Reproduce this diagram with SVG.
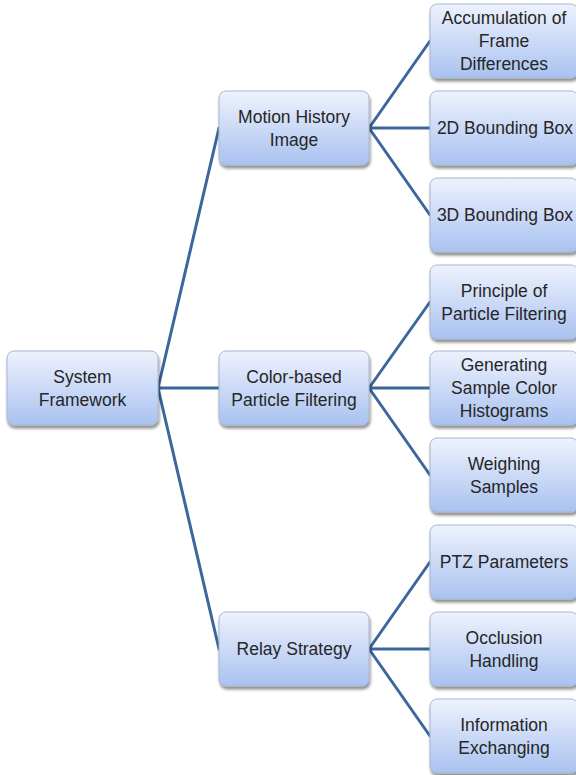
<svg xmlns="http://www.w3.org/2000/svg" width="576" height="775" viewBox="0 0 576 775">
  <defs>
    <linearGradient id="boxFill" x1="0" y1="0" x2="0" y2="1">
      <stop offset="0" stop-color="#eef2fd"/>
      <stop offset="1" stop-color="#a9c2f0"/>
    </linearGradient>
    <filter id="shadow" x="-10%" y="-10%" width="125%" height="135%">
      <feGaussianBlur in="SourceAlpha" stdDeviation="1.6"/>
      <feOffset dx="1" dy="2.5" result="b"/>
      <feComponentTransfer><feFuncA type="linear" slope="0.45"/></feComponentTransfer>
      <feMerge><feMergeNode/><feMergeNode in="SourceGraphic"/></feMerge>
    </filter>
  </defs>
  <style>
    .box { fill: url(#boxFill); stroke: #a7b6d2; stroke-width: 1; filter: url(#shadow); }
    .lbl { font-family: "Liberation Sans", Arial, sans-serif; font-size: 17.5px; fill: #262626; text-anchor: middle; }
    .edge { stroke: #3c679c; stroke-width: 3; fill: none; stroke-linecap: round; }
  </style>
  <rect width="576" height="775" fill="#ffffff"/>

  <g id="connectors">
    <path class="edge" d="M158 388 L219 128 M158 388 L219 388 M158 388 L219 649"/>
    <path class="edge" d="M369 128 L430 41 M369 128 L430 128 M369 128 L430 215"/>
    <path class="edge" d="M369 388 L430 302 M369 388 L430 388 M369 388 L430 475"/>
    <path class="edge" d="M369 649 L430 562 M369 649 L430 649 M369 649 L430 736"/>
  </g>

  <g id="system-framework">
    <rect class="box" x="7" y="351" width="151" height="74" rx="7"/>
    <text class="lbl" x="82.5" y="383">System</text>
    <text class="lbl" x="82.5" y="406">Framework</text>
  </g>

  <g id="motion-history-image">
    <rect class="box" x="219" y="91" width="150" height="74" rx="7"/>
    <text class="lbl" x="294" y="123">Motion History</text>
    <text class="lbl" x="294" y="146">Image</text>
  </g>
  <g id="color-particle-filtering">
    <rect class="box" x="219" y="351" width="150" height="74" rx="7"/>
    <text class="lbl" x="294" y="383">Color-based</text>
    <text class="lbl" x="294" y="406">Particle Filtering</text>
  </g>
  <g id="relay-strategy">
    <rect class="box" x="219" y="612" width="150" height="74" rx="7"/>
    <text class="lbl" x="294" y="655">Relay Strategy</text>
  </g>

  <g id="accumulation">
    <rect class="box" x="430" y="4" width="148" height="74" rx="7"/>
    <text class="lbl" x="504" y="24">Accumulation of</text>
    <text class="lbl" x="504" y="47">Frame</text>
    <text class="lbl" x="504" y="70">Differences</text>
  </g>
  <g id="bbox-2d">
    <rect class="box" x="430" y="91" width="148" height="74" rx="7"/>
    <text class="lbl" x="505" y="134">2D Bounding Box</text>
  </g>
  <g id="bbox-3d">
    <rect class="box" x="430" y="178" width="148" height="74" rx="7"/>
    <text class="lbl" x="505" y="221">3D Bounding Box</text>
  </g>
  <g id="principle">
    <rect class="box" x="430" y="265" width="148" height="74" rx="7"/>
    <text class="lbl" x="504" y="297">Principle of</text>
    <text class="lbl" x="504" y="320">Particle Filtering</text>
  </g>
  <g id="histograms">
    <rect class="box" x="430" y="351" width="148" height="74" rx="7"/>
    <text class="lbl" x="504" y="371">Generating</text>
    <text class="lbl" x="504" y="394">Sample Color</text>
    <text class="lbl" x="504" y="417">Histograms</text>
  </g>
  <g id="weighing">
    <rect class="box" x="430" y="438" width="148" height="74" rx="7"/>
    <text class="lbl" x="504" y="470">Weighing</text>
    <text class="lbl" x="504" y="493">Samples</text>
  </g>
  <g id="ptz">
    <rect class="box" x="430" y="525" width="148" height="74" rx="7"/>
    <text class="lbl" x="504" y="568">PTZ Parameters</text>
  </g>
  <g id="occlusion">
    <rect class="box" x="430" y="612" width="148" height="74" rx="7"/>
    <text class="lbl" x="504" y="644">Occlusion</text>
    <text class="lbl" x="504" y="667">Handling</text>
  </g>
  <g id="information">
    <rect class="box" x="430" y="699" width="148" height="74" rx="7"/>
    <text class="lbl" x="504" y="731">Information</text>
    <text class="lbl" x="504" y="754">Exchanging</text>
  </g>
</svg>
